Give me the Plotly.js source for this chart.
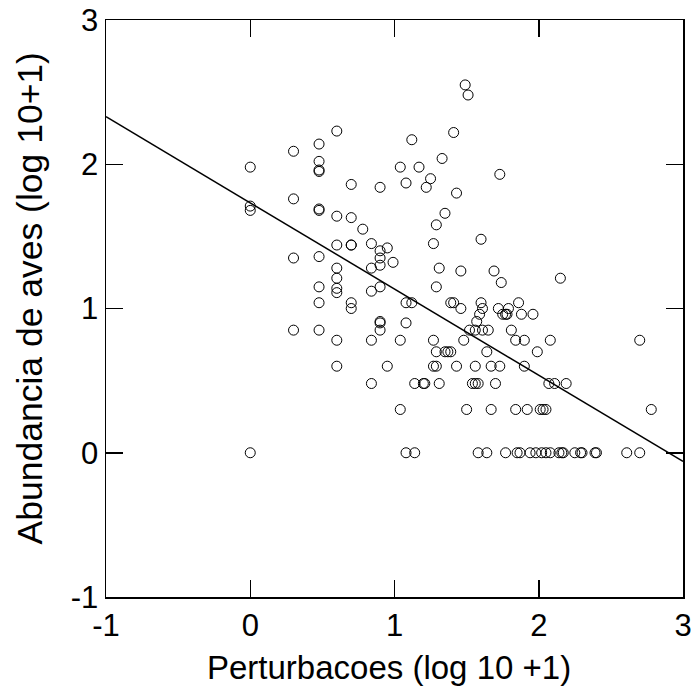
<!DOCTYPE html>
<html>
<head>
<meta charset="utf-8">
<script src="https://cdn.plot.ly/plotly-3.0.1.min.js"></script>
<style>html,body{margin:0;padding:0;background:#fff;}#chart{width:696px;height:695px;}</style>
</head>
<body>
<div id="chart"></div>
<script>
// Perturbacoes (log 10 +1) per site
const perturbX = [
  0,0,0,0,
  0.30,0.30,0.30,0.30,
  0.477,0.477,0.477,0.477,0.477,0.477,0.477,0.477,0.477,0.477,
  0.60,0.60,0.60,0.60,0.60,0.60,0.60,0.60,0.60,
  0.70,0.70,0.70,0.70,0.70,0.70,
  0.78,
  0.84,0.84,0.84,0.84,0.84,
  0.90,0.90,0.90,0.90,0.90,0.90,0.90,0.90,
  0.95,0.95,
  0.99,
  1.04,1.04,1.04,
  1.08,1.08,1.08,1.08,
  1.12,1.12,
  1.14,1.14,
  1.17,
  1.20,1.21,
  1.22,
  1.25,
  1.27,1.27,1.27,
  1.29,1.29,1.29,1.29,
  1.31,1.31,
  1.33,
  1.35,1.35,
  1.37,1.39,
  1.39,1.41,
  1.41,
  1.43,1.43,
  1.46,1.46,
  1.48,
  1.49,
  1.51,
  1.50,
  1.52,
  1.54,1.56,1.58,
  1.56,1.56,
  1.57,
  1.58,
  1.59,
  1.60,1.60,1.61,
  1.61,
  1.64,1.64,
  1.65,
  1.67,1.67,
  1.69,
  1.70,
  1.72,
  1.73,1.73,
  1.74,
  1.75,1.77,1.78,
  1.77,
  1.79,
  1.81,
  1.84,1.84,
  1.86,
  1.85,1.87,
  1.88,
  1.90,1.90,
  1.92,
  1.94,
  1.96,
  1.98,
  1.99,
  2.01,2.03,2.05,
  2.02,
  2.05,
  2.07,
  2.08,2.08,
  2.11,
  2.14,2.16,
  2.15,
  2.17,
  2.19,
  2.25,2.29,2.30,
  2.39,2.40,
  2.61,
  2.70,2.70,
  2.78
];
// Abundancia de aves (log 10+1) per site
const avesY = [
  1.98,1.71,1.68,0,
  2.09,1.76,1.35,0.85,
  2.14,2.02,1.96,1.95,1.69,1.68,1.36,1.15,1.04,0.85,
  2.23,1.64,1.44,1.28,1.21,1.14,1.11,0.78,0.60,
  1.86,1.63,1.44,1.44,1.04,1.00,
  1.55,
  1.45,1.28,1.12,0.78,0.48,
  1.84,1.40,1.35,1.30,1.15,0.91,0.90,0.85,
  1.42,0.60,
  1.32,
  1.98,0.78,0.30,
  1.87,1.04,0.90,0,
  2.17,1.04,
  0.48,0,
  1.98,
  0.48,0.48,
  1.84,
  1.90,
  1.45,0.78,0.60,
  1.58,1.15,0.70,0.60,
  1.28,0.48,
  2.04,
  1.66,0.70,
  0.70,0.70,
  1.04,1.04,
  2.22,
  1.80,0.60,
  1.26,1.00,
  0.78,
  2.55,
  2.48,
  0.30,
  0.85,
  0.48,0.48,0.48,
  0.60,0.85,
  0.91,
  0,
  0.96,
  1.48,1.04,1.00,
  0.85,
  0.70,0,
  0.85,
  0.60,0.30,
  1.26,
  0.48,
  1.00,
  1.93,0.60,
  1.18,
  0.96,0.96,0.96,
  0,
  1.00,
  0.85,
  0.78,0.30,
  1.04,
  0,0,
  0.96,
  0.60,0.78,
  0.30,
  0,
  0.96,
  0,
  0.70,
  0.30,0.30,0.30,
  0,
  0,
  0.48,
  0.78,0,
  0.48,
  0,0,
  1.21,
  0,
  0.48,
  0,0,0,
  0,0,
  0,
  0,0.78,
  0.30
];
// Fitted regression line end points
const fitX = [-1, 3];
const fitY = [2.33, -0.06];
const xTicks = [-1, 0, 1, 2, 3];
const yTicks = [-1, 0, 1, 2, 3];
const xTitle = 'Perturbacoes (log 10 +1)';
const yTitle = 'Abundancia de aves (log 10+1)';

const font = 'Liberation Sans, Arial, Helvetica, sans-serif';

const traces = [
  {
    x: perturbX, y: avesY, type: 'scatter', mode: 'markers',
    marker: {symbol: 'circle-open', size: 10, color: '#000', line: {width: 1, color: '#000'}},
    hoverinfo: 'x+y', showlegend: false
  },
  {
    x: fitX, y: fitY, type: 'scatter', mode: 'lines',
    line: {color: '#000', width: 1.5}, showlegend: false, hoverinfo: 'skip'
  }
];

const axisCommon = {
  showgrid: false, zeroline: false, showline: true, linecolor: '#000', linewidth: 1.5,
  mirror: 'ticks', ticks: 'inside', ticklen: 17, tickwidth: 1.5, tickcolor: '#000',
  tickfont: {family: font, size: 31, color: '#000'}, automargin: false, tickmode: 'array'
};

const layout = {
  width: 696, height: 695,
  margin: {l: 106, r: 13, t: 20, b: 98},
  paper_bgcolor: '#fff', plot_bgcolor: '#fff',
  font: {family: font, color: '#000'},
  xaxis: Object.assign({}, axisCommon, {
    range: [-1, 3], tickvals: xTicks, ticktext: xTicks.map(String)
  }),
  yaxis: Object.assign({}, axisCommon, {
    range: [-1, 3], tickvals: yTicks, ticktext: yTicks.map(String)
  }),
  annotations: [
    {
      text: xTitle, xref: 'paper', yref: 'paper',
      x: (388.5 - 106) / 577, y: (597 - 667.5) / 577,
      xanchor: 'center', yanchor: 'middle', showarrow: false,
      font: {family: font, size: 33, color: '#000'}
    },
    {
      text: yTitle, xref: 'paper', yref: 'paper',
      x: (29 - 106) / 577, y: (597 - 298.5) / 577,
      xanchor: 'center', yanchor: 'middle', textangle: -90, showarrow: false,
      font: {family: font, size: 35.5, color: '#000'}
    }
  ]
};

Plotly.newPlot('chart', traces, layout, {displayModeBar: false, staticPlot: true});
</script>
</body>
</html>
